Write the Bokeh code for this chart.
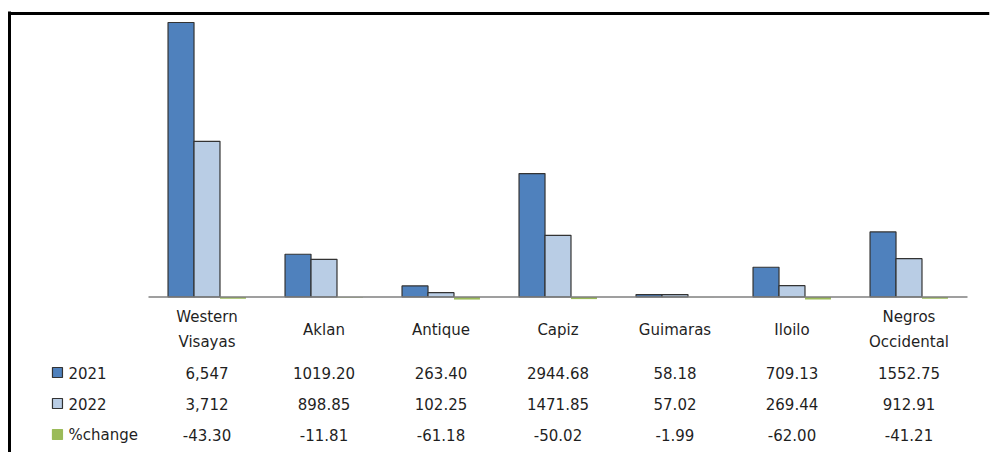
from bokeh.plotting import figure
from bokeh.models import Range1d, FactorRange, ColumnDataSource, FixedTicker, LinearScale, Span
from bokeh.transform import dodge
from bokeh.embed import file_html
from bokeh.resources import INLINE
from bokeh.core.properties import value

# ---------------- data ----------------
categories = ["Western Visayas", "Aklan", "Antique", "Capiz", "Guimaras", "Iloilo", "Negros Occidental"]
cat_labels = ["Western\nVisayas", "Aklan", "Antique", "Capiz", "Guimaras", "Iloilo", "Negros\nOccidental"]
series = ["2021", "2022", "%change"]
v2021 = [6547, 1019.20, 263.40, 2944.68, 58.18, 709.13, 1552.75]
v2022 = [3712, 898.85, 102.25, 1471.85, 57.02, 269.44, 912.91]
pct_change = [-43.30, -11.81, -61.18, -50.02, -1.99, -62.00, -41.21]
t2021 = ["6,547", "1019.20", "263.40", "2944.68", "58.18", "709.13", "1552.75"]
t2022 = ["3,712", "898.85", "102.25", "1471.85", "57.02", "269.44", "912.91"]
tpct = ["-43.30", "-11.81", "-61.18", "-50.02", "-1.99", "-62.00", "-41.21"]

# ---------------- style ----------------
colors = ["#4F81BD", "#B9CDE5", "#9BBB59"]
edge = "#333333"
txt = "#1f1f1f"
FONT = "DejaVu Sans"
FS = "15px"
HDR = "__rows__"
W, H = 1004, 452
TOP, LEFT, RIGHT = 11, 9, 15
FRAME_H = H - TOP
BASE_PX = 285.5          # baseline distance from frame top
UNITS_PER_PX = 6547 / 274.5
ROW_Y = [318, 361, 392, 423]  # label row, 2021, 2022, %change (px from frame top)
bw = 0.222

x_range = FactorRange(factors=[HDR] + categories, range_padding=0.188,
                      range_padding_units="absolute")
y_range = Range1d(-(FRAME_H - BASE_PX) * UNITS_PER_PX, BASE_PX * UNITS_PER_PX)

p = figure(width=W, height=H, x_range=x_range, y_range=y_range,
           output_backend="svg", toolbar_location=None,
           x_axis_location=None, y_axis_location="left",
           min_border_left=LEFT, min_border_top=TOP,
           min_border_right=RIGHT, min_border_bottom=0)
p.extra_y_ranges = {"tbl": Range1d(FRAME_H, 0)}
p.extra_y_scales = {"tbl": LinearScale()}
p.outline_line_color = None
p.xgrid.visible = False
p.ygrid.visible = False
p.background_fill_color = "white"
p.border_fill_color = "white"

ax = p.yaxis[0]
ax.ticker = FixedTicker(ticks=[])
ax.axis_line_color = "black"
ax.axis_line_width = 3
ax.major_tick_out = 0
ax.major_tick_in = 0
ax.minor_tick_out = 0
ax.minor_tick_in = 0
ax.major_label_standoff = 0

# top frame line
p.add_layout(Span(location=2, y_range_name="tbl", dimension="width",
                  line_color="black", line_width=3))

src = ColumnDataSource(dict(cat=categories, lab=cat_labels, v2021=v2021, v2022=v2022,
                            pct=pct_change, t2021=t2021, t2022=t2022, tpct=tpct))

p.vbar(x=dodge("cat", -bw, range=p.x_range), top="v2021", bottom=0, width=bw, source=src,
       fill_color=colors[0], line_color=edge, line_width=1.2)
p.vbar(x=dodge("cat", 0, range=p.x_range), top="v2022", bottom=0, width=bw, source=src,
       fill_color=colors[1], line_color=edge, line_width=1.2)
p.vbar(x=dodge("cat", bw, range=p.x_range), top="pct", bottom=0, width=bw, source=src,
       fill_color=colors[2], line_color=None)

base = ColumnDataSource(dict(x0=[categories[0]], x1=[categories[-1]], y=[0]))
p.segment(x0=dodge("x0", -0.5, range=p.x_range), x1=dodge("x1", 0.5, range=p.x_range),
          y0="y", y1="y", source=base, line_color="#7f7f7f", line_width=1.5)

# table texts
for col, yy in (("lab", ROW_Y[0]), ("t2021", ROW_Y[1]), ("t2022", ROW_Y[2]), ("tpct", ROW_Y[3])):
    p.text(x=dodge("cat", 0, range=p.x_range), y=yy, text=col, source=src,
           y_range_name="tbl", text_align="center", text_baseline="middle",
           text_font=value(FONT), text_font_size=FS, text_color=txt,
           text_line_height=1.42)

hdr = ColumnDataSource(dict(x=[HDR] * 3, y=ROW_Y[1:], label=series, fill=colors,
                            line=[edge, edge, colors[2]]))
p.rect(x=dodge("x", -0.278, range=p.x_range), y="y", width=10, height=10,
       width_units="screen", height_units="screen", source=hdr, y_range_name="tbl",
       fill_color="fill", line_color="line", line_width=1.2)
p.text(x=dodge("x", -0.184, range=p.x_range), y="y", text="label", source=hdr,
       y_range_name="tbl", text_align="left", text_baseline="middle",
       text_font=value(FONT), text_font_size=FS, text_color=txt)

open("out.html", "w").write(file_html(p, INLINE))
